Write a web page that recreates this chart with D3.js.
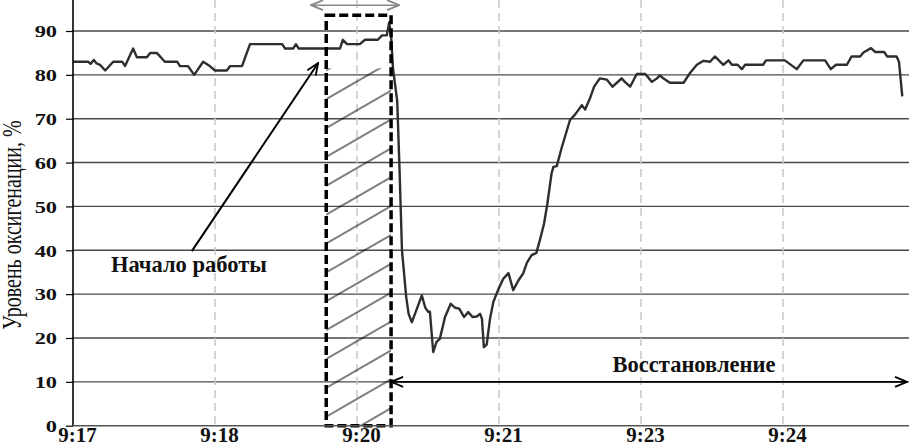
<!DOCTYPE html>
<html>
<head>
<meta charset="utf-8">
<script src="https://cdn.jsdelivr.net/npm/d3@7"></script>
<style>
  body { margin: 0; background: #fff; }
  svg { display: block; font-family: "Liberation Serif", "Times New Roman", serif; }
</style>
</head>
<body>
<svg id="chart" width="909" height="443"></svg>
<script>
// sample number along the record (one time label every 30 samples)
const sampleIdx = [0, 3.2, 3.7, 4.4, 5.0, 5.7, 6.8, 8.5, 10.4, 11.0, 12.7, 13.5, 15.6, 16.3, 17.7, 19.4,
  22.0, 22.6, 24.3, 25.6, 27.5, 28.9, 30.0, 32.5, 33.2, 35.7, 37.4, 44.2, 44.8, 46.5, 47.1, 47.7,
  56.4, 57.0, 57.9, 60.6, 61.7, 64.4, 65.3, 66.3, 66.8, 67.2, 67.6, 68.5, 69.0, 69.5, 70.4, 70.9,
  71.6, 73.7, 74.4, 75.0, 75.4, 76.1, 76.8, 77.5, 78.6, 79.8, 80.7, 81.6, 82.6, 83.5, 84.4, 85.3,
  86.0, 86.4, 86.8, 87.4, 88.1, 88.8, 89.9, 90.9, 92.0, 93.0, 94.1, 95.1, 95.9, 96.9, 97.9, 98.7,
  99.5, 100.2, 101.1, 101.5, 102.2, 103.3, 105.0, 106.1, 107.5, 108.2, 109.2, 110.1, 111.3, 112.8,
  114.0, 114.9, 115.9, 116.6, 117.7, 119.1, 120.9, 122.3, 123.4, 124.0, 124.7, 126.1, 129.0, 130.4,
  131.8, 133.2, 134.6, 135.6, 137.4, 138.5, 139.2, 140.4, 141.3, 142.0, 145.8, 146.4, 150.4, 152.9,
  154.3, 158.9, 160.1, 161.2, 163.5, 164.5, 166.3, 167.0, 168.6, 169.5, 171.4, 172.0, 174.0, 174.5, 175.2];

// oxygenation level, %
const spo2 = [83, 83, 82.5, 83.4, 82.6, 82.3, 81, 83, 83, 82, 86, 84, 84, 85, 85, 83,
  83, 82, 82, 80, 83, 82, 81, 81, 82, 82, 87, 87, 86, 86, 87, 86,
  86, 88, 87, 87, 88, 88, 89, 89, 92, 89, 81.5, 74, 58, 40, 29.3, 25.5,
  23.6, 29.7, 27, 26, 26, 16.8, 19.1, 19.8, 24.8, 27.8, 26.9, 26.7, 24.8, 25.9, 24.8, 24.9,
  25.5, 24.4, 17.9, 18.5, 24.4, 28.2, 31.2, 33.5, 34.8, 30.9, 33.1, 34.7, 37.2, 38.9, 39.4, 42.6,
  46, 50.5, 57.5, 59, 59.2, 63.6, 69.7, 71, 73.1, 72.1, 74.6, 77.3, 79.2, 78.9,
  77.3, 78.2, 79.2, 78.4, 77.3, 80.2, 80.2, 78.4, 79.2, 79.9, 79.2, 78.2, 78.2, 80.5,
  82.3, 83.2, 83, 84.2, 82.3, 83.3, 82.3, 82.3, 81.3, 82.3, 82.3, 83.3, 83.3, 81.3,
  83.3, 83.3, 81.3, 82.3, 82.3, 84.2, 84.2, 85.1, 86.1, 85.2, 85.2, 84.2, 84.2, 83, 75.1];

const tickIdx = [0, 30, 60, 90, 120, 150];
const tickLabels = ['9:17', '9:18', '9:20', '9:21', '9:23', '9:24'];
const yTicks = [0, 10, 20, 30, 40, 50, 60, 70, 80, 90];

// work interval (hatched box) and recovery span, in samples
const workStart = 53.5, workEnd = 67.2;
const recoveryEnd = 176.2;

const svg = d3.select('#chart');
const W = 909;

const x = d3.scaleLinear().domain([0, 150]).range([73, 783]);
const y = d3.scaleLinear().domain([0, 90]).range([425.7, 31]);

const defs = svg.append('defs');

// hatch pattern, lines rising at 30 degrees
const hatchAnchor = [x(53.9), y(74.7)];
const phase = (0.5 * hatchAnchor[0] + 0.866 * hatchAnchor[1]) % 25;
const pat = defs.append('pattern')
  .attr('id', 'hatch')
  .attr('patternUnits', 'userSpaceOnUse')
  .attr('width', 40)
  .attr('height', 25)
  .attr('patternTransform', 'rotate(-30)');
pat.append('line')
  .attr('x1', 0).attr('x2', 40)
  .attr('y1', phase).attr('y2', phase)
  .attr('stroke', '#000')
  .attr('stroke-width', 1.1);

function addMarker(id, color) {
  defs.append('marker')
    .attr('id', id)
    .attr('viewBox', '0 0 14 12')
    .attr('refX', 13)
    .attr('refY', 6)
    .attr('markerWidth', 14)
    .attr('markerHeight', 12)
    .attr('markerUnits', 'userSpaceOnUse')
    .attr('orient', 'auto-start-reverse')
    .append('path')
    .attr('d', 'M1,1 L13,6 L1,11')
    .attr('fill', 'none')
    .attr('stroke', color)
    .attr('stroke-width', 1.8);
}
addMarker('arrBlack', '#000');
addMarker('arrGray', '#888');

// horizontal grid
svg.append('g')
  .selectAll('line')
  .data(yTicks.slice(1))
  .enter()
  .append('line')
  .attr('x1', x(0)).attr('x2', W)
  .attr('y1', d => y(d)).attr('y2', d => y(d))
  .attr('stroke', '#4a4a4a')
  .attr('stroke-width', 1.4);

// vertical dashed grid
svg.append('g')
  .selectAll('line')
  .data(tickIdx.slice(1))
  .enter()
  .append('line')
  .attr('x1', d => x(d)).attr('x2', d => x(d))
  .attr('y1', 0).attr('y2', y(0))
  .attr('stroke', '#c8c8c8')
  .attr('stroke-width', 1.5)
  .attr('stroke-dasharray', '8,5');

// hatched work interval
svg.append('rect')
  .attr('x', x(workStart))
  .attr('y', y(81.5))
  .attr('width', x(workEnd) - x(workStart))
  .attr('height', y(0) - y(81.5))
  .attr('fill', 'url(#hatch)');

// data line
const line = d3.line()
  .x((d, i) => x(sampleIdx[i]))
  .y(d => y(d));

svg.append('path')
  .datum(spo2)
  .attr('d', line)
  .attr('fill', 'none')
  .attr('stroke', '#2e2e2e')
  .attr('stroke-width', 2.4)
  .attr('stroke-linejoin', 'round');

// dashed box around the work interval
svg.append('rect')
  .attr('x', x(workStart))
  .attr('y', y(93.6))
  .attr('width', x(workEnd) - x(workStart))
  .attr('height', y(0) - y(93.6))
  .attr('fill', 'none')
  .attr('stroke', '#000')
  .attr('stroke-width', 3.5)
  .attr('stroke-dasharray', '9,4');

// axes
const yAxis = svg.append('g')
  .attr('transform', `translate(${x(0)},0)`)
  .call(d3.axisLeft(y).tickValues(yTicks).tickSize(7).tickSizeOuter(0).tickFormat(d3.format('d')));
yAxis.select('.domain').remove();
yAxis.selectAll('line').attr('stroke', '#000').attr('stroke-width', 1.2);
yAxis.selectAll('text')
  .attr('x', -11.4)
  .attr('dy', '0.36em')
  .attr('transform', 'scale(1.4,1)')
  .attr('font-family', '"Liberation Serif", serif')
  .attr('font-weight', 'bold')
  .attr('font-size', 16)
  .attr('fill', '#111');

svg.append('line')
  .attr('x1', x(0)).attr('x2', x(0))
  .attr('y1', 0).attr('y2', y(0))
  .attr('stroke', '#000').attr('stroke-width', 1.6);

const xAxis = svg.append('g')
  .attr('transform', `translate(0,${y(0)})`)
  .call(d3.axisBottom(x).tickValues(tickIdx).tickSize(0).tickFormat((d, i) => tickLabels[i]));
xAxis.select('.domain').remove();
xAxis.selectAll('text')
  .attr('y', 16)
  .attr('dx', 4)
  .attr('dy', 0)
  .attr('font-family', '"Liberation Serif", serif')
  .attr('font-weight', 'bold')
  .attr('font-size', 21)
  .attr('fill', '#111');

svg.append('line')
  .attr('x1', x(0)).attr('x2', W)
  .attr('y1', y(0)).attr('y2', y(0))
  .attr('stroke', '#555').attr('stroke-width', 1.5);

// y title
svg.append('text')
  .attr('transform', `translate(21,225) scale(1.4,1) rotate(-90)`)
  .attr('text-anchor', 'middle')
  .attr('font-size', 20)
  .attr('fill', '#111')
  .text('Уровень оксигенации, %');

// work duration arrow at the top
svg.append('line')
  .attr('x1', x(50.3)).attr('x2', x(68.9))
  .attr('y1', y(95.9)).attr('y2', y(95.9))
  .attr('stroke', '#888').attr('stroke-width', 1.5)
  .attr('marker-start', 'url(#arrGray)')
  .attr('marker-end', 'url(#arrGray)');

// "start of work" pointer
svg.append('line')
  .attr('x1', x(25.1)).attr('y1', y(39.8))
  .attr('x2', x(51.8)).attr('y2', y(82.7))
  .attr('stroke', '#000').attr('stroke-width', 2)
  .attr('marker-end', 'url(#arrBlack)');

svg.append('text')
  .attr('x', 111)
  .attr('y', 272)
  .attr('font-size', 22.5)
  .attr('font-weight', 'bold')
  .attr('fill', '#111')
  .text('Начало работы');

// recovery arrow
svg.append('line')
  .attr('x1', x(workEnd)).attr('x2', x(recoveryEnd))
  .attr('y1', y(10)).attr('y2', y(10))
  .attr('stroke', '#000').attr('stroke-width', 1.8)
  .attr('marker-start', 'url(#arrBlack)')
  .attr('marker-end', 'url(#arrBlack)');

svg.append('text')
  .attr('x', 694)
  .attr('y', 372)
  .attr('text-anchor', 'middle')
  .attr('font-size', 22.5)
  .attr('font-weight', 'bold')
  .attr('fill', '#111')
  .text('Восстановление');
</script>
</body>
</html>
